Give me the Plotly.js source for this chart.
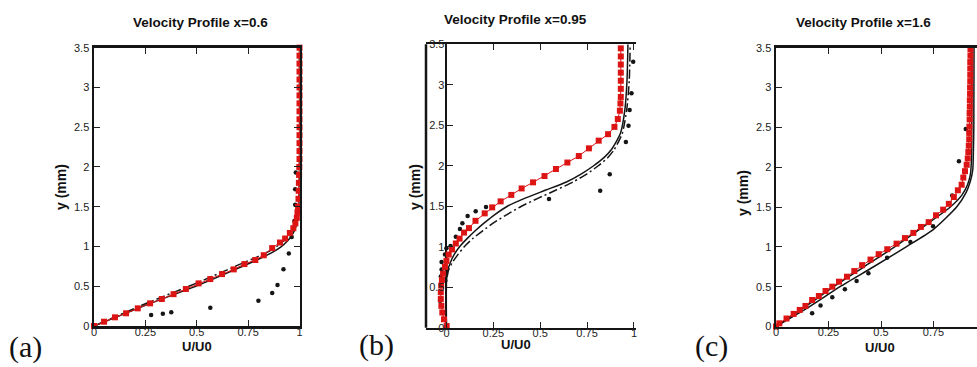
<!DOCTYPE html>
<html>
<head>
<meta charset="utf-8">
<script src="https://cdn.plot.ly/plotly-3.0.1.min.js"></script>
<style>
html,body{margin:0;padding:0;overflow:hidden;background:#fff;}
#chart{width:990px;height:367px;}
</style>
</head>
<body>
<div id="chart"></div>
<script>
// ---------- data ----------
const panelTitles = ["Velocity Profile x=0.6", "Velocity Profile x=0.95", "Velocity Profile x=1.6"];
const panelLetters = ["(a)", "(b)", "(c)"];
const xTickVals = [0, 0.25, 0.5, 0.75, 1];
const xTickText = ["0", "0.25", "0.5", "0.75", "1"];
const cTickVals = [0, 0.25, 0.5, 0.75];
const cTickText = ["0", "0.25", "0.5", "0.75"];
const yTickVals = [0, 0.5, 1, 1.5, 2, 2.5, 3, 3.5];
const yTickText = ["0", "0.5", "1", "1.5", "2", "2.5", "3", "3.5"];

// panel (a) x=0.6
const aRedX = [0, 0.049, 0.102, 0.156, 0.213, 0.273, 0.33, 0.387, 0.447, 0.509, 0.566, 0.623, 0.68, 0.732, 0.785, 0.826, 0.867, 0.905, 0.93, 0.953, 0.97, 0.98, 0.987, 0.99, 0.993, 0.995, 0.996, 0.997, 0.998, 0.999, 1, 1, 1, 1, 1, 1, 1, 1, 1, 1, 1, 1, 1, 1, 1];
const aRedY = [0, 0.054, 0.109, 0.16, 0.222, 0.285, 0.339, 0.40, 0.465, 0.536, 0.59, 0.653, 0.712, 0.779, 0.83, 0.89, 0.98, 1.05, 1.10, 1.17, 1.23, 1.29, 1.36, 1.43, 1.5, 1.6, 1.7, 1.8, 1.9, 2.0, 2.1, 2.2, 2.3, 2.4, 2.5, 2.6, 2.7, 2.8, 2.9, 3.0, 3.1, 3.2, 3.3, 3.4, 3.5];
const aSolidX = [0, 0.25, 0.5, 0.7, 0.8, 0.87, 0.91, 0.94, 0.965, 0.98, 0.99, 0.997, 1, 1];
const aSolidY = [0, 0.26, 0.505, 0.725, 0.84, 0.93, 0.995, 1.065, 1.15, 1.23, 1.33, 1.45, 1.6, 3.5];
const aDashX = [0, 0.25, 0.5, 0.7, 0.8, 0.86, 0.9, 0.935, 0.96, 0.978, 0.99, 0.997, 1, 1];
const aDashY = [0, 0.28, 0.54, 0.765, 0.875, 0.95, 1.02, 1.1, 1.18, 1.27, 1.38, 1.5, 1.65, 3.5];
const aExpX = [0.278, 0.335, 0.376, 0.566, 0.80, 0.867, 0.893, 0.922, 0.948, 0.962, 0.975, 0.979, 0.979, 0.982];
const aExpY = [0.138, 0.155, 0.172, 0.23, 0.318, 0.414, 0.515, 0.715, 0.912, 1.12, 1.32, 1.525, 1.72, 1.93];

// panel (b) x=0.95
const bRedX = [0.001, -0.013, -0.022, -0.027, -0.03, -0.03, -0.028, -0.024, -0.018, -0.008, 0.0, 0.012, 0.03, 0.05, 0.07, 0.094, 0.12, 0.155, 0.204, 0.244, 0.289, 0.346, 0.401, 0.462, 0.523, 0.584, 0.645, 0.706, 0.76, 0.812, 0.862, 0.896, 0.914, 0.925, 0.928, 0.93, 0.93, 0.93, 0.93, 0.93, 0.93, 0.93];
const bRedY = [0.02, 0.104, 0.1875, 0.27, 0.354, 0.4375, 0.52, 0.59, 0.667, 0.75, 0.825, 0.904, 0.967, 1.04, 1.10, 1.175, 1.23, 1.32, 1.412, 1.486, 1.56, 1.64, 1.72, 1.795, 1.873, 1.96, 2.04, 2.12, 2.215, 2.31, 2.39, 2.48, 2.577, 2.68, 2.77, 2.85, 2.95, 3.05, 3.15, 3.25, 3.35, 3.45];
const bSolidX = [0, 0, 0.006, 0.02, 0.04, 0.07, 0.11, 0.155, 0.205, 0.26, 0.325, 0.42, 0.53, 0.64, 0.72, 0.785, 0.84, 0.88, 0.928, 0.952, 0.963, 0.968];
const bSolidY = [0, 0.55, 0.7, 0.8, 0.9, 1.0, 1.1, 1.2, 1.3, 1.4, 1.5, 1.6, 1.7, 1.8, 1.9, 2.0, 2.1, 2.2, 2.4, 2.7, 3.05, 3.5];
const bDashX = [0, 0, 0.01, 0.03, 0.06, 0.095, 0.14, 0.195, 0.255, 0.325, 0.4, 0.49, 0.585, 0.675, 0.75, 0.81, 0.86, 0.895, 0.938, 0.962, 0.975, 0.98];
const bDashY = [0, 0.55, 0.7, 0.8, 0.9, 1.0, 1.1, 1.2, 1.3, 1.4, 1.5, 1.6, 1.7, 1.8, 1.9, 2.0, 2.1, 2.2, 2.4, 2.7, 3.05, 3.5];
const bExpX = [-0.034, -0.03, -0.026, -0.026, -0.008, 0.0, 0.022, 0.05, 0.072, 0.085, 0.113, 0.156, 0.211, 0.547, 0.82, 0.871, 0.957, 0.971, 0.977, 0.987, 0.996];
const bExpY = [0.333, 0.633, 0.72, 0.8125, 0.904, 0.98, 1.01, 1.124, 1.22, 1.29, 1.38, 1.437, 1.49, 1.59, 1.69, 1.894, 2.293, 2.495, 2.69, 2.894, 3.285];

// panel (c) x=1.6
const cRedX = [0, 0.016, 0.05, 0.084, 0.113, 0.14, 0.172, 0.204, 0.236, 0.268, 0.30, 0.338, 0.373, 0.41, 0.45, 0.489, 0.53, 0.574, 0.614, 0.654, 0.69, 0.727, 0.762, 0.796, 0.823, 0.847, 0.866, 0.884, 0.892, 0.90, 0.908, 0.913, 0.916, 0.918, 0.92, 0.92, 0.921, 0.922, 0.922, 0.923, 0.923, 0.924, 0.924, 0.925, 0.925, 0.925, 0.925, 0.926, 0.926];
const cRedY = [0, 0.04, 0.10, 0.158, 0.208, 0.258, 0.333, 0.383, 0.446, 0.5, 0.5625, 0.625, 0.696, 0.77, 0.84, 0.908, 0.97, 1.04, 1.11, 1.175, 1.25, 1.31, 1.396, 1.467, 1.54, 1.625, 1.71, 1.78, 1.87, 1.95, 2.03, 2.11, 2.19, 2.27, 2.35, 2.43, 2.51, 2.6, 2.68, 2.76, 2.84, 2.92, 3.0, 3.08, 3.16, 3.24, 3.32, 3.4, 3.48];
const cUpperX = [0, 0.14, 0.275, 0.42, 0.565, 0.7, 0.83, 0.885, 0.912, 0.925, 0.93, 0.932, 0.933];
const cUpperY = [0, 0.25, 0.5, 0.75, 1.0, 1.25, 1.5, 1.65, 1.78, 1.9, 2.05, 2.3, 3.5];
const cLowerX = [0, 0.16, 0.305, 0.465, 0.62, 0.75, 0.86, 0.905, 0.925, 0.937, 0.94, 0.942, 0.943];
const cLowerY = [0, 0.25, 0.5, 0.75, 1.0, 1.22, 1.5, 1.68, 1.82, 1.97, 2.2, 2.5, 3.5];
const cExpX = [0.172, 0.212, 0.268, 0.328, 0.384, 0.44, 0.529, 0.64, 0.748, 0.839, 0.871, 0.9035];
const cExpY = [0.167, 0.2625, 0.367, 0.467, 0.571, 0.667, 0.8625, 1.06, 1.258, 1.646, 2.075, 2.48];

// ---------- styles ----------
const W = 990, H = 367;
const RED = "#dc1414";
const BLK = "#151515";
function solid(x, y, xa, ya) {
  return {x, y, xaxis: xa, yaxis: ya, mode: "lines", type: "scatter",
    line: {color: BLK, width: 1.5, shape: "spline", smoothing: 0.6}, hoverinfo: "skip"};
}
function dashdot(x, y, xa, ya) {
  return {x, y, xaxis: xa, yaxis: ya, mode: "lines", type: "scatter",
    line: {color: BLK, width: 1.5, dash: "9px,3px,2px,3px", shape: "spline", smoothing: 0.6}, hoverinfo: "skip"};
}
function exp(x, y, xa, ya) {
  return {x, y, xaxis: xa, yaxis: ya, mode: "markers", type: "scatter", cliponaxis: false,
    marker: {color: BLK, size: 4.5, symbol: "circle"}, hoverinfo: "skip"};
}
function red(x, y, xa, ya) {
  return {x, y, xaxis: xa, yaxis: ya, mode: "lines+markers", type: "scatter", cliponaxis: false,
    line: {color: RED, width: 1}, marker: {color: RED, size: 6, symbol: "square"}, hoverinfo: "skip"};
}

const data = [
  solid(aSolidX, aSolidY, "x", "y"), dashdot(aDashX, aDashY, "x", "y"),
  exp(aExpX, aExpY, "x", "y"), red(aRedX, aRedY, "x", "y"),
  solid(bSolidX, bSolidY, "x2", "y2"), dashdot(bDashX, bDashY, "x2", "y2"),
  exp(bExpX, bExpY, "x2", "y2"), red(bRedX, bRedY, "x2", "y2"),
  solid(cUpperX, cUpperY, "x3", "y3"), solid(cLowerX, cLowerY, "x3", "y3"),
  exp(cExpX, cExpY, "x3", "y3"), red(cRedX, cRedY, "x3", "y3")
];

const tickFont = {family: "Liberation Sans, Arial, sans-serif", size: 11, color: "#222"};
function xAx(dom, anchor, range, extra) {
  return Object.assign({domain: [dom[0] / W, dom[1] / W], anchor, range, tickvals: xTickVals, ticktext: xTickText,
    ticks: "inside", ticklen: 6, tickwidth: 1, tickcolor: "#222", showline: true, linewidth: 2.5, linecolor: BLK,
    mirror: "allticks", showgrid: false, zeroline: false, tickfont: tickFont, ticklabelstandoff: -6, fixedrange: true}, extra || {});
}
function yAx(dom, anchor, extra) {
  return Object.assign({domain: [(H - dom[1]) / H, (H - dom[0]) / H], anchor, range: [0, 3.5], tickvals: yTickVals, ticktext: yTickText,
    ticks: "inside", ticklen: 6, tickwidth: 1, tickcolor: "#222", showline: true, linewidth: 2.5, linecolor: BLK,
    mirror: "allticks", showgrid: false, zeroline: false, tickfont: tickFont, fixedrange: true}, extra || {});
}

const bLeft = 426, bRight = 636, bXmin = -0.109, bXmax = 1.011;
const bZeroPx = bLeft + (0 - bXmin) / (bXmax - bXmin) * (bRight - bLeft);

const layout = {
  width: W, height: H,
  margin: {l: 0, r: 0, t: 0, b: 0},
  paper_bgcolor: "#fff", plot_bgcolor: "#fff",
  showlegend: false,
  xaxis: xAx([94, 299.5], "y", [0, 1]),
  yaxis: yAx([47.7, 326], "x"),
  xaxis2: xAx([bLeft, bRight], "y2", [bXmin, bXmax], {zeroline: true, zerolinecolor: BLK, zerolinewidth: 2}),
  yaxis2: yAx([44.3, 327.7], "free", {position: bZeroPx / W, showline: false, mirror: false, ticklabelstandoff: 2}),
  yaxis4: yAx([44.3, 327.7], "x2", {overlaying: "y2", side: "right", showticklabels: false, mirror: false, linewidth: 2.5}),
  xaxis3: xAx([776, 986], "y3", [0, 1], {tickvals: cTickVals, ticktext: cTickText}),
  yaxis3: yAx([47.7, 326.5], "x3"),
  shapes: [
    {type: "line", xref: "x2 domain", yref: "y2 domain", x0: 0, x1: 0, y0: 0, y1: 1, line: {color: BLK, width: 2.5}}
  ],
  annotations: []
};

const titleFont = {family: "Liberation Sans, Arial, sans-serif", size: 13.5, color: "#111", weight: "bold"};
const axTitleFont = {family: "Liberation Sans, Arial, sans-serif", size: 13, color: "#111", weight: "bold"};
const letterFont = {family: "Liberation Serif, Times New Roman, serif", size: 30, color: "#111"};
const titlePos = [[200.5, 22.7], [515.8, 19.5], [863.3, 22]];
const xTitlePos = [[197, 346], [516, 344], [880, 347]];
const yTitlePos = [[61, 187], [415, 187], [743, 193]];
const letterPos = [[7, 347], [357, 345], [693, 346]];
for (let i = 0; i < 3; i++) {
  layout.annotations.push({text: panelTitles[i], xref: "paper", yref: "paper", x: titlePos[i][0] / W, y: (H - titlePos[i][1]) / H,
    xanchor: "center", yanchor: "middle", showarrow: false, font: titleFont});
  layout.annotations.push({text: "U/U0", xref: "paper", yref: "paper", x: xTitlePos[i][0] / W, y: (H - xTitlePos[i][1]) / H,
    xanchor: "center", yanchor: "middle", showarrow: false, font: axTitleFont});
  layout.annotations.push({text: "y (mm)", xref: "paper", yref: "paper", x: yTitlePos[i][0] / W, y: (H - yTitlePos[i][1]) / H,
    xanchor: "center", yanchor: "middle", showarrow: false, textangle: -90, font: Object.assign({}, axTitleFont, {size: 14})});
  layout.annotations.push({text: panelLetters[i], xref: "paper", yref: "paper", x: letterPos[i][0] / W, y: (H - letterPos[i][1]) / H,
    xanchor: "left", yanchor: "middle", showarrow: false, font: letterFont});
}

Plotly.newPlot("chart", data, layout, {staticPlot: true, displayModeBar: false});
</script>
</body>
</html>
